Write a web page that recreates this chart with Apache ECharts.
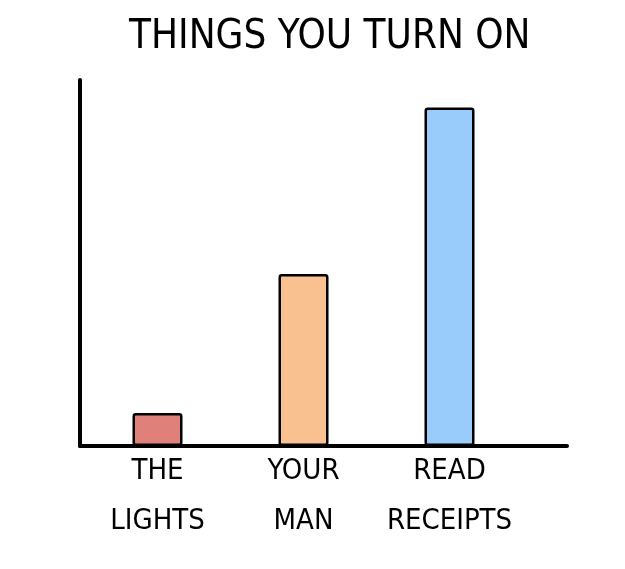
<!DOCTYPE html>
<html><head><meta charset="utf-8">
<script src="https://cdn.jsdelivr.net/npm/echarts@6/dist/echarts.min.js"></script>
<style>html,body{margin:0;padding:0;background:#fff}#c{width:625px;height:569px}</style>
</head><body><div id="c"></div>
<script>
const categories = ['THE\nLIGHTS', 'YOUR\nMAN', 'READ\nRECEIPTS'];
const values = [9, 47, 92.5];
const barColors = ['#e0807a', '#f9c18f', '#99cbfb'];
const titleText = 'THINGS YOU TURN ON';

const FONT = '"DejaVu Sans Condensed", "DejaVu Sans", sans-serif';
const chart = echarts.init(document.getElementById('c'));
chart.setOption({
  backgroundColor: '#fff',
  animation: false,
  title: {
    text: titleText, left: 124, top: 13,
    textStyle: { fontFamily: FONT, fontWeight: 'normal', fontSize: 40, color: '#000' }
  },
  grid: [
    { left: 80, right: 58, top: 80, bottom: 123 },
    { left: 84.5, width: 438, top: 80, bottom: 123 }
  ],
  xAxis: [
    { gridIndex: 0, type: 'value', min: 0, max: 1, axisLine: { show: true, lineStyle: { color: '#000', width: 4, cap: 'round' } },
      axisTick: { show: false }, axisLabel: { show: false }, splitLine: { show: false } },
    { gridIndex: 1, type: 'category', data: categories, axisLine: { show: false }, axisTick: { show: false },
      axisLabel: { interval: 0, fontFamily: FONT, fontSize: 29, color: '#000', lineHeight: 50, margin: 0 } }
  ],
  yAxis: [
    { gridIndex: 0, type: 'value', min: 0, max: 100, axisLine: { show: true, lineStyle: { color: '#000', width: 4, cap: 'round' } },
      axisTick: { show: false }, axisLabel: { show: false }, splitLine: { show: false } },
    { gridIndex: 1, type: 'value', min: 0, max: 100, axisLine: { show: false }, axisTick: { show: false },
      axisLabel: { show: false }, splitLine: { show: false } }
  ],
  series: [{
    type: 'bar', xAxisIndex: 1, yAxisIndex: 1, barWidth: 50,
    data: values.map((v, i) => ({ value: v, itemStyle: { color: barColors[i] } })),
    itemStyle: { borderColor: '#000', borderWidth: 2.5, borderRadius: 2 },
    z: 1
  }]
});
</script></body></html>
